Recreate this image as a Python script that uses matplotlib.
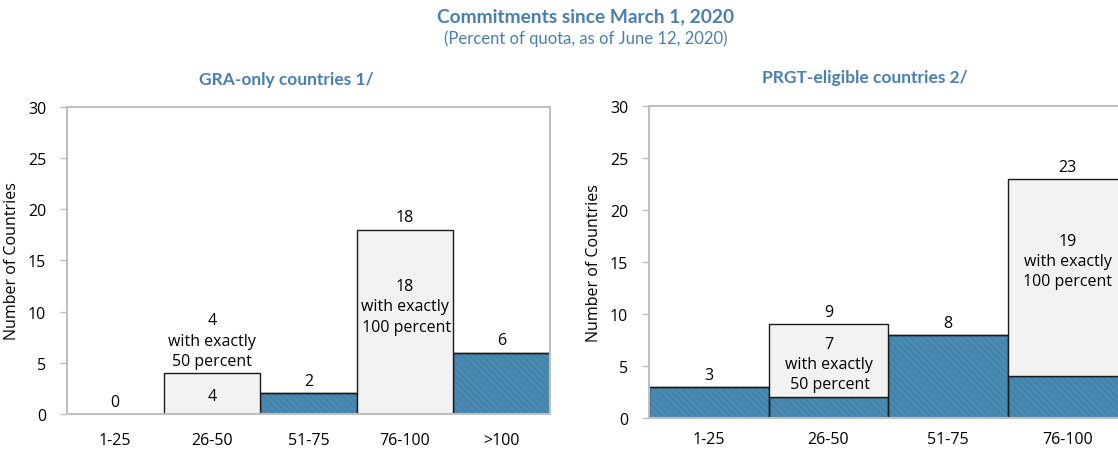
import matplotlib.pyplot as plt
import numpy as np

# data
cats_gra = ['1-25', '26-50', '51-75', '76-100', '>100']
other_gra = [0, 0, 2, 0, 6]
exact_gra = [0, 4, 0, 18, 0]

cats_prgt = ['1-25', '26-50', '51-75', '76-100']
other_prgt = [3, 2, 8, 4]
exact_prgt = [0, 7, 0, 19]

title = 'Commitments since March 1, 2020'
subtitle = '(Percent of quota, as of June 12, 2020)'
panel_titles = ['GRA-only countries 1/', 'PRGT-eligible countries 2/']

blue = '#4A89B0'
hatchc = '#3F7DA4'
grey = '#F2F2F2'
frame = '#BFBFBF'
tcol = '#4A7FAE'

plt.rcParams['font.family'] = ['Open Sans', 'DejaVu Sans']
plt.rcParams['hatch.linewidth'] = 0.8

fig = plt.figure(figsize=(11.18, 4.52), dpi=100)
ax1 = fig.add_axes([0.0599, 0.0819, 0.432, 0.680])
ax2 = fig.add_axes([0.5805, 0.073, 0.535, 0.690])


def draw(ax, cats, other, exact, xmax, xpad):
    x = np.arange(len(cats))
    other = np.array(other)
    exact = np.array(exact)
    # hatched fill (hatch takes the edge colour), then the black outline
    ax.bar(x, other, width=1.0, color=blue, edgecolor=hatchc, linewidth=0,
           hatch='\\\\\\\\\\', zorder=2)
    ax.bar(x, other, width=1.0, fill=False, edgecolor='#1a1a1a', linewidth=1.0,
           zorder=2)
    ax.bar(x, exact, bottom=other, width=1.0, color=grey, edgecolor='#1a1a1a',
           linewidth=1.0, zorder=2)
    ax.set_xlim(-0.5, xmax)
    ax.set_ylim(0, 30)
    ax.set_yticks(range(0, 31, 5))
    ax.set_xticks(x)
    ax.set_xticklabels(cats)
    for s in ax.spines.values():
        s.set_color(frame)
        s.set_linewidth(1.5)
        s.set_zorder(3)
    ax.tick_params(axis='y', colors=frame, labelcolor='black', labelsize=11.5,
                   length=5, width=1, pad=10)
    ax.tick_params(axis='x', length=0, labelsize=11.5, pad=xpad)
    ax.set_ylabel('Number of Countries', fontsize=11.5, labelpad=6)
    return x, other + exact


x1, tot1 = draw(ax1, cats_gra, other_gra, exact_gra, 4.5, 13)
x2, tot2 = draw(ax2, cats_prgt, other_prgt, exact_prgt, 4.5, 9)

fs = 11.5
for i, t in zip(x1, tot1):
    lab = str(t)
    if i == 1:
        lab = '4\nwith exactly\n50 percent'
    ax1.annotate(lab, (i, t), xytext=(0, 3), textcoords='offset points',
                 ha='center', va='bottom', fontsize=fs, linespacing=1.35)
for i, t in zip(x2, tot2):
    ax2.annotate(str(t), (i, t), xytext=(0, 3), textcoords='offset points',
                 ha='center', va='bottom', fontsize=fs)

# notes inside the grey segments
ax1.text(1, 1.75, '4', ha='center', va='center', fontsize=fs, zorder=4)
ax1.text(3, 10.5, '18\nwith exactly\n 100 percent', ha='center', va='center',
         fontsize=fs, linespacing=1.35, zorder=4)
ax2.text(1, 5.2, '7\nwith exactly\n 50 percent', ha='center', va='center',
         fontsize=fs, linespacing=1.35, zorder=4)
ax2.text(3, 15.1, '19\nwith exactly\n100 percent', ha='center', va='center',
         fontsize=fs, linespacing=1.35, zorder=4)

fig.text(0.524, 0.962, title, ha='center', va='center', fontsize=13.8,
         fontweight='bold', color=tcol, family=['Lato', 'DejaVu Sans'])
fig.text(0.524, 0.915, subtitle, ha='center', va='center', fontsize=12,
         color=tcol, family=['Lato', 'DejaVu Sans'])
fig.text(0.256, 0.823, panel_titles[0], ha='center', va='center', fontsize=12.5,
         fontweight='bold', color=tcol, family=['Lato', 'DejaVu Sans'])
fig.text(0.774, 0.827, panel_titles[1], ha='center', va='center', fontsize=12.5,
         fontweight='bold', color=tcol, family=['Lato', 'DejaVu Sans'])

fig.savefig('out.png', dpi=100)
